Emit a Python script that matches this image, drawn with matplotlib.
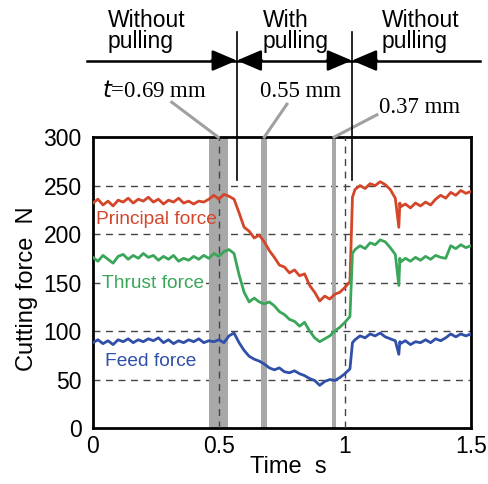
"""
Cutting force vs time, with / without pulling
"""
import matplotlib
matplotlib.use("Agg")
import matplotlib.pyplot as plt

plt.rcParams["font.family"] = ["Liberation Sans", "DejaVu Sans"]

# %% data
time = [0.00, 0.02, 0.04, 0.06, 0.08, 0.10, 0.12, 0.14, 0.16, 0.18,
        0.20, 0.22, 0.24, 0.26, 0.28, 0.30, 0.32, 0.34, 0.36, 0.38,
        0.40, 0.42, 0.44, 0.46, 0.48, 0.50, 0.52, 0.54, 0.56, 0.58,
        0.60, 0.62, 0.64, 0.66, 0.68, 0.70, 0.72, 0.74, 0.76, 0.78,
        0.80, 0.82, 0.84, 0.86, 0.88, 0.90, 0.92, 0.94, 0.96, 0.98,
        1.00, 1.02, 1.03, 1.04, 1.06, 1.08, 1.10, 1.12, 1.14, 1.16,
        1.18, 1.20, 1.214, 1.218, 1.22, 1.24, 1.26, 1.28, 1.30, 1.32,
        1.34, 1.36, 1.38, 1.40, 1.42, 1.44, 1.46, 1.48, 1.50]

principal = [232, 236, 230, 234, 229, 235, 233, 237, 232, 236,
             234, 238, 233, 236, 231, 235, 233, 237, 232, 234,
             231, 234, 233, 236, 240, 236, 241, 239, 236, 222,
             207, 203, 196, 199, 192, 183, 176, 168, 166, 160,
             163, 157, 159, 147, 140, 131, 136, 133, 138, 140,
             145, 151, 238, 246, 250, 247, 252, 250, 254, 251,
             246, 237, 207, 232, 228, 231, 227, 232, 229, 233,
             230, 236, 240, 237, 243, 240, 245, 242, 244]

thrust = [176, 172, 178, 174, 170, 177, 179, 174, 178, 175,
          180, 176, 178, 173, 177, 174, 178, 172, 175, 173,
          177, 174, 178, 175, 180, 177, 182, 184, 180, 158,
          140, 130, 134, 130, 128, 130, 126, 120, 117, 112,
          110, 105, 109, 100, 93, 89, 92, 95, 100, 104,
          109, 115, 180, 184, 188, 185, 191, 189, 194, 192,
          186, 179, 147, 175, 171, 175, 172, 176, 173, 177,
          174, 178, 176, 175, 188, 185, 189, 186, 188]

feed = [88, 91, 87, 90, 86, 91, 89, 92, 88, 91,
        89, 92, 90, 93, 88, 91, 87, 90, 88, 91,
        89, 92, 88, 90, 89, 91, 88, 95, 98, 88,
        80, 74, 71, 69, 66, 62, 60, 62, 58, 57,
        59, 56, 54, 51, 49, 44, 48, 50, 49, 52,
        56, 61, 88, 91, 95, 93, 97, 95, 98, 94,
        92, 90, 76, 89, 87, 90, 86, 89, 88, 91,
        88, 92, 90, 93, 97, 94, 97, 95, 97]

series_names = ["Principal force", "Thrust force", "Feed force"]
series_colors = ["#d4462a", "#3aa65a", "#2f4fa8"]

# grey bands (measuring points) and thickness labels
bands = [(0.460, 0.535), (0.669, 0.692), (0.947, 0.966)]
thickness = ["$t$=0.69 mm", "0.55 mm", "0.37 mm"]

# section boundaries
boundaries = [0.571, 1.028]
sections = ["Without\npulling", "With\npulling", "Without\npulling"]

# %% plot
fig = plt.figure(figsize=(4.89, 4.84), dpi=100)
ax = fig.add_axes([0.190, 0.1157, 0.773, 0.601])

for y in [50, 100, 150, 200, 250]:
    ax.axhline(y, color="#444444", lw=1, ls=(0, (5, 4)), zorder=1)
for x in [0.5, 1.0]:
    ax.axvline(x, color="#444444", lw=1, ls=(0, (5, 4)), zorder=3)

for x0, x1 in bands:
    ax.axvspan(x0, x1, color="#a8a8a8", lw=0, zorder=2)

for vals, c in zip([principal, thrust, feed], series_colors):
    ax.plot(time, vals, color=c, lw=2, zorder=4)

# series labels; the thrust one breaks the 150 grid line
lab_pos = [(0.014, 215), (0.038, 149), (0.046, 69)]
for (x, y), name, c in zip(lab_pos, series_names, series_colors):
    box = None
    if name == "Thrust force":
        box = dict(facecolor="white", edgecolor="none", pad=0.5)
    ax.text(x, y, name, color=c, fontsize=13.8, va="center", zorder=2.5, bbox=box)

ax.set_xlim(0, 1.5)
ax.set_ylim(0, 300)
ax.set_xticks([0, 0.5, 1, 1.5])
ax.set_xticklabels(["0", "0.5", "1", "1.5"])
ax.set_yticks([0, 50, 100, 150, 200, 250, 300])
ax.tick_params(length=0, labelsize=16.5)
ax.tick_params(axis="y", pad=8)
ax.tick_params(axis="x", pad=5)
for s in ax.spines.values():
    s.set_linewidth(2)

ax.set_xlabel("Time  s", fontsize=17)
ax.set_ylabel("Cutting force  N", fontsize=17)
ax.xaxis.set_label_coords(0.516, -0.095)
ax.yaxis.set_label_coords(-0.145, 0.48)

# connectors from the thickness labels to the bands
conn = [((0.313, 336), (0.497, 300)),
        ((0.770, 334), (0.680, 300)),
        ((1.127, 323), (0.957, 300))]
for (x0, y0), (x1, y1) in conn:
    ax.plot([x0, x1], [y0, y1], color="#a0a0a0", lw=2.2, clip_on=False, zorder=5)

serif = ["Liberation Serif", "DejaVu Serif"]
ax.text(0.242, 347, thickness[0], family=serif, fontsize=16.5, ha="center", va="center")
ax.text(0.826, 347, thickness[1], family=serif, fontsize=16.5, ha="center", va="center")
ax.text(1.298, 331, thickness[2], family=serif, fontsize=16.5, ha="center", va="center")

# section marks on top
y_arrow = 379
for b in boundaries:
    ax.plot([b, b], [256, 408], color="k", lw=1.2, clip_on=False, zorder=6)
ax.plot([-0.024, 1.536], [y_arrow, y_arrow], color="k", lw=1.8, clip_on=False)
for b in boundaries:
    for side in [-1, 1]:
        ax.annotate("", xy=(b, y_arrow), xytext=(b + side * 0.1, y_arrow),
                    annotation_clip=False,
                    arrowprops=dict(arrowstyle="-|>,head_length=0.75,head_width=0.32",
                                    color="k", lw=1.8, mutation_scale=20,
                                    shrinkA=0, shrinkB=0))

for x, lab in zip([0.06, 0.675, 1.147], sections):
    ax.text(x, 432, lab, fontsize=16.5, va="top", ha="left", linespacing=0.9,
            clip_on=False)

plt.savefig("out.png", dpi=100)
